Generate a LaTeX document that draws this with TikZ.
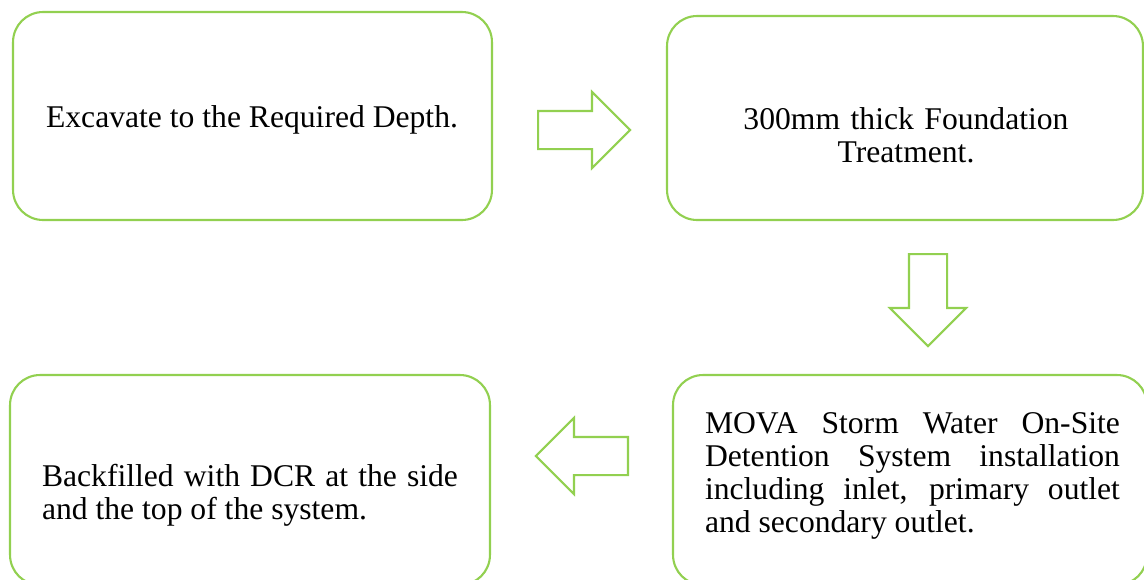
\documentclass[tikz,border=0pt]{standalone}
\usepackage{fontspec}
\setmainfont{Liberation Serif}
\usepackage{tikz}
\usetikzlibrary{shapes.arrows}
\definecolor{leafgreen}{RGB}{146,208,80}

\begin{document}
\begin{tikzpicture}[x=0.02cm, y=-0.02cm,
    stepbox/.style={draw=leafgreen, line width=1.2pt, rounded corners=0.6cm, inner sep=0pt},
    blockarrow/.style={single arrow, draw=leafgreen, line width=1.2pt, inner xsep=0pt, inner ysep=0.36cm,
        single arrow head extend=0.38cm, minimum height=1.84cm, anchor=tail},
    steptext/.style={font=\fontsize{18}{18.7}\selectfont, inner sep=0pt}]
    \useasboundingbox (0,0) rectangle (1144,579);
    \clip (0,0) rectangle (1144,579);
    % the four steps
    \node[stepbox, minimum width=9.58cm, minimum height=4.16cm] (excavate) at (252.5,116) {};
    \node[stepbox, minimum width=9.52cm, minimum height=4.08cm] (foundation) at (905,118) {};
    \node[stepbox, minimum width=9.48cm, minimum height=4.2cm] (install) at (910,480) {};
    \node[stepbox, minimum width=9.6cm, minimum height=4.2cm] (backfill) at (250,480) {};
    % step texts
    \node[steptext, anchor=base] (excavatetxt) at (252,127) {Excavate to the Required Depth.};
    \node[steptext, text width=9cm, align=center] (foundationtxt) at (906,135) {300mm thick Foundation\\Treatment.};
    \node[steptext, text width=8.3cm, align=justify] (installtxt) at (912.5,476)
        {MOVA Storm Water On-Site\linebreak Detention System installation\linebreak including inlet, primary outlet\linebreak and secondary outlet.};
    \node[steptext, text width=8.32cm, align=justify] (backfilltxt) at (250,495)
        {Backfilled with DCR at the side\linebreak and the top of the system.};
    % block arrows between the steps
    \node[blockarrow] (toright) at (537,130) {};
    \node[blockarrow, shape border rotate=270, inner xsep=0.36cm, inner ysep=0pt] (todown) at (928,253) {};
    \node[blockarrow, shape border rotate=180] (toleft) at (629,456) {};
\end{tikzpicture}
\end{document}
